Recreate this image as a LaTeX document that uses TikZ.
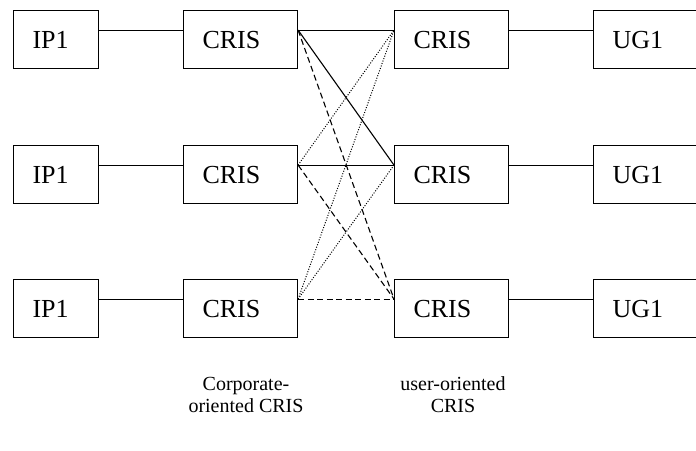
\documentclass[tikz,border=0pt]{standalone}
\usepackage{fontspec}
\setmainfont{Liberation Serif}
\usetikzlibrary{calc}
\begin{document}
\begin{tikzpicture}[x=1pt,y=-1pt,
  box/.style={draw, line width=1.1pt, rectangle, anchor=north west, minimum height=58pt,
    inner xsep=19pt, inner ysep=0pt, align=left, font=\fontsize{26}{28}\selectfont},
  ipbox/.style={box, text width=47pt},
  crisbox/.style={box, text width=76pt},
  conn/.style={line width=1.1pt},
  dsh/.style={conn, dash pattern=on 6pt off 3.5pt},
  dtt/.style={conn, line width=1pt, dash pattern=on 1pt off 1.6pt},
  lab/.style={align=center, font=\fontsize{20}{22}\selectfont}]
\useasboundingbox (0,0) rectangle (696,450);
\clip (0,0) rectangle (696,450);
% boxes
\foreach \r/\y in {1/10,2/145,3/279}{
  \node[ipbox] (ip\r) at (13,\y) {IP1};
  \node[crisbox] (lc\r) at (183,\y) {CRIS};
  \node[crisbox] (rc\r) at (394,\y) {CRIS};
  \node[crisbox] (ug\r) at (593,\y) {UG1};
}
% connection points
\foreach \r in {1,2,3}{
  \coordinate (ipo\r) at ($(ip\r.north east)!0.34!(ip\r.south east)$);
  \coordinate (lci\r) at ($(lc\r.north west)!0.34!(lc\r.south west)$);
  \coordinate (lco\r) at ($(lc\r.north east)!0.34!(lc\r.south east)$);
  \coordinate (rci\r) at ($(rc\r.north west)!0.34!(rc\r.south west)$);
  \coordinate (rco\r) at ($(rc\r.north east)!0.34!(rc\r.south east)$);
  \coordinate (ugi\r) at ($(ug\r.north west)!0.34!(ug\r.south west)$);
  \draw[conn] (ipo\r) -- (lci\r);
  \draw[conn] (rco\r) -- (ugi\r);
}
% cross connections
\draw[conn] (lco1) -- (rci1);
\draw[conn] (lco1) -- (rci2);
\draw[dsh] (lco1) -- (rci3);
\draw[dtt] (lco2) -- (rci1);
\draw[conn] (lco2) -- (rci2);
\draw[dsh] (lco2) -- (rci3);
\draw[dtt] (lco3) -- (rci1);
\draw[dtt] (lco3) -- (rci2);
\draw[dsh] (lco3) -- (rci3);
% labels
\node[lab] (labl) at (246,395) {Corporate-\\oriented CRIS};
\node[lab] (labr) at (453,395) {user-oriented\\CRIS};
\end{tikzpicture}
\end{document}
